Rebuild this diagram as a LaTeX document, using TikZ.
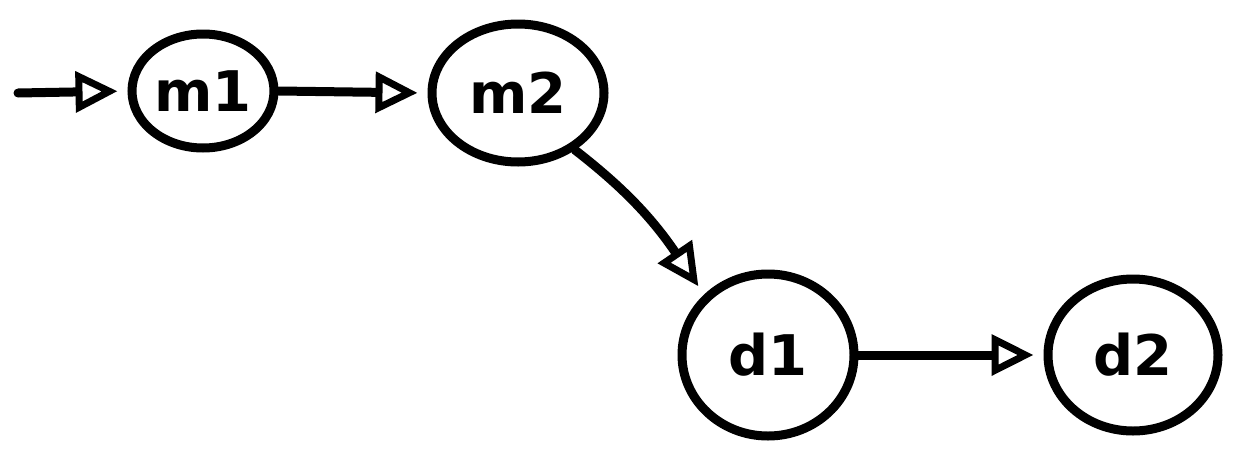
\documentclass[tikz,border=0pt]{standalone}
\usepackage{fontspec}
\setmainfont{DejaVu Sans}
\usetikzlibrary{arrows.meta,shapes.geometric}
\begin{document}
\begin{tikzpicture}[x=1pt,y=-1pt,
  st/.style={draw=black,line width=9pt,ellipse,inner sep=0pt,font=\fontsize{56}{56}\selectfont\bfseries},
  conn/.style={line width=9pt,line cap=round,shorten >=10pt,-{Triangle[open,length=42pt,width=40pt,line width=7pt]}}]
\useasboundingbox (0,0) rectangle (1242,453);
\node[st,minimum width=142pt,minimum height=114pt] (m1) at (203,91) {m1};
\node[st,minimum width=172pt,minimum height=138pt] (m2) at (518,93) {m2};
\node[st,minimum width=172pt,minimum height=162pt] (d1) at (768,355) {d1};
\node[st,minimum width=170pt,minimum height=152pt] (d2) at (1133,355) {d2};
\coordinate (s) at (18,93);
\draw[conn] (s) -- (m1.west);
\draw[conn] (m1.east) -- (m2.west);
\draw[conn] (m2.-45) .. controls (620,185) and (650,215) .. (d1.north west);
\draw[conn] (d1.east) -- (d2.west);
\end{tikzpicture}
\end{document}
